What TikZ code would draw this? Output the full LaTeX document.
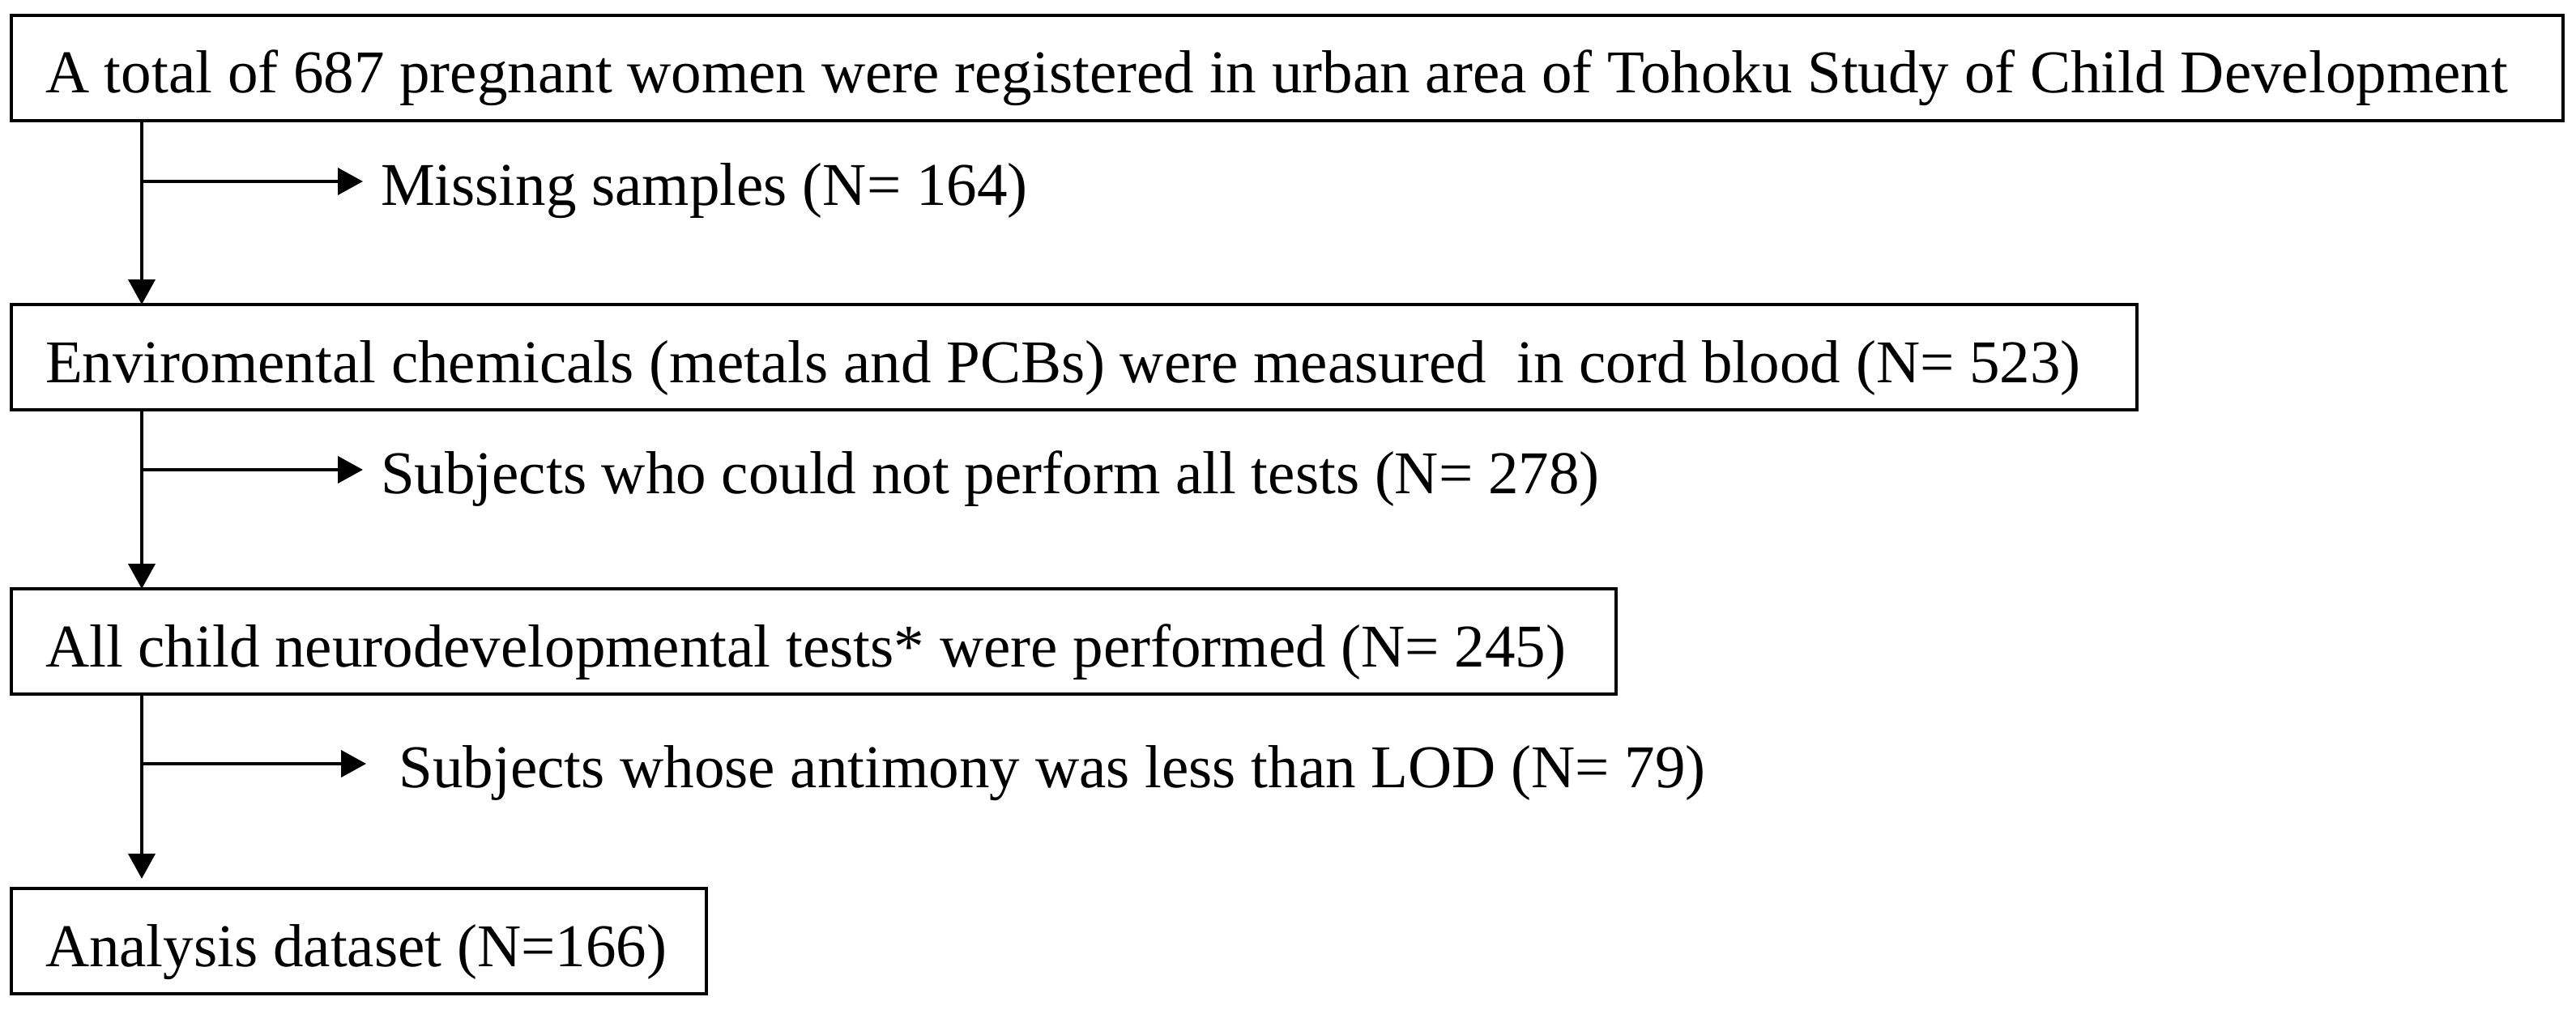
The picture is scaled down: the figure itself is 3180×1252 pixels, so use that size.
\documentclass[tikz,border=0pt]{standalone}
\usepackage{fontspec}
\setmainfont{Liberation Serif}
\usetikzlibrary{arrows.meta}
\begin{document}
\begin{tikzpicture}[x=1pt,y=1pt,
  every node/.style={outer sep=0pt, font=\fontsize{75pt}{90pt}\selectfont},
  box/.style={draw, line width=4.6pt, anchor=north west, minimum height=130pt,
    inner xsep=42pt, inner ysep=0pt, text height=72pt, text depth=10pt},
  lbl/.style={anchor=west, inner xsep=22pt, inner ysep=0pt, text height=58pt, text depth=0pt},
  conn/.style={line width=4pt},
  arr/.style={conn, -{Triangle[length=31pt,width=33pt]}}]
\useasboundingbox (0,0) rectangle (3180,-1252);
\node[box] (b1) at (14,-19)
  {\makebox[3066pt][l]{A total of 687 pregnant women were registered in urban area of Tohoku Study of Child Development}};
\node[box] (b2) at (14,-376)
  {\makebox[2540pt][l]{Enviromental chemicals (metals and PCBs) were measured\ \ in cord blood (N= 523)}};
\node[box] (b3) at (14,-727)
  {\makebox[1897pt][l]{All child neurodevelopmental tests* were performed (N= 245)}};
\node[box] (b4) at (14,-1097)
  {\makebox[774pt][l]{Analysis dataset (N=166)}};
\coordinate (v) at (175,0);
\node[lbl] (m1) at (448,-224) {Missing samples (N= 164)};
\node[lbl] (m2) at (448,-580) {Subjects who could not perform all tests (N= 278)};
\node[lbl] (m3) at (452,-943) {\ Subjects whose antimony was less than LOD (N= 79)};
\draw[arr] (v |- b1.south) -- (v |- b2.north);
\draw[arr] (v |- b2.south) -- (v |- b3.north);
\draw[arr, shorten >=12pt] (v |- b3.south) -- (v |- b4.north);
\draw[arr] (v |- m1.west) -- (m1.west);
\draw[arr] (v |- m2.west) -- (m2.west);
\draw[arr] (v |- m3.west) -- (m3.west);
\end{tikzpicture}
\end{document}
